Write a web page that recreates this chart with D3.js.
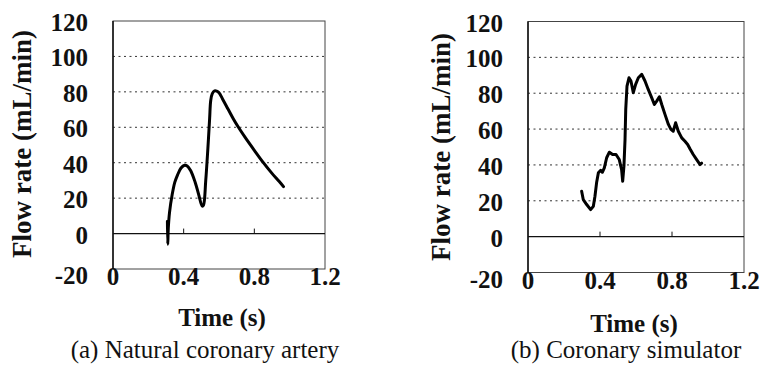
<!DOCTYPE html>
<html>
<head>
<meta charset="utf-8">
<script src="https://cdn.jsdelivr.net/npm/d3@7"></script>
<style>
  body { margin: 0; background: #fff; }
</style>
</head>
<body>
<svg id="chart" width="762" height="368"></svg>
<script>
// (a) natural coronary artery
var timeA = [0.308, 0.310, 0.313, 0.320, 0.335, 0.350, 0.365, 0.385, 0.405, 0.420, 0.440, 0.465, 0.485, 0.505, 0.512,
  0.525, 0.537, 0.547, 0.553, 0.562, 0.575, 0.587, 0.600, 0.620, 0.650, 0.680, 0.710, 0.750, 0.800, 0.850, 0.900, 0.940, 0.965];
var flowA = [7, -6, 3, 12, 22, 29, 33, 37, 38.6, 38.2, 35.5, 29, 22, 15.5, 16,
  30, 48, 65, 75, 79, 80.5, 80.4, 79.5, 76, 70.5, 65, 60, 54, 47, 40.2, 34, 29.5, 26.5];

// (b) coronary simulator
var timeB = [0.298, 0.307, 0.326, 0.348, 0.363, 0.372, 0.381, 0.391, 0.404, 0.413, 0.424, 0.437, 0.452, 0.470, 0.489,
  0.507, 0.520, 0.526, 0.533, 0.539, 0.543, 0.550, 0.561, 0.572, 0.585, 0.598, 0.613, 0.632, 0.650, 0.668, 0.687,
  0.702, 0.715, 0.730, 0.743, 0.761, 0.780, 0.794, 0.807, 0.820, 0.835, 0.854, 0.872, 0.887, 0.902, 0.918, 0.937, 0.956, 0.965];
var flowB = [25.3, 20.7, 17.9, 15.1, 16.9, 22.5, 30, 35.6, 37, 35.9, 38.4, 44, 47.1, 45.8, 45.8,
  43, 37.4, 30.9, 39.3, 54, 71, 84, 88.6, 86.8, 80.3, 84.9, 88.6, 90.5, 86.8, 82.1, 77.5,
  73.7, 75.6, 78, 73.7, 68.2, 62.6, 59.8, 58.8, 63.5, 58.8, 55.1, 53.2, 51.4, 48.6, 45.8, 43, 40.2, 41];

var yTicks = [-20, 0, 20, 40, 60, 80, 100, 120];
var xTicks = [0, 0.4, 0.8, 1.2];
var xTickLabels = ["0", "0.4", "0.8", "1.2"];
var yTitle = "Flow rate (mL/min)";
var xTitle = "Time (s)";

var serif = "Liberation Serif, Times New Roman, serif";
var svg = d3.select("#chart");

function drawPanel(time, flow, caption, curve, box) {
  var x = d3.scaleLinear().domain([0, 1.2]).range([box.left, box.right]);
  var y = d3.scaleLinear().domain([-20, 120]).range([box.bottom, box.top]);
  var g = svg.append("g");

  // dotted grid
  g.selectAll(".grid").data([20, 40, 60, 80, 100]).enter().append("line")
    .attr("x1", box.left).attr("x2", box.right)
    .attr("y1", d => y(d)).attr("y2", d => y(d))
    .attr("stroke", "#333").attr("stroke-width", 1).attr("stroke-dasharray", "2,3.5");

  // frame
  g.append("rect").attr("x", box.left).attr("y", box.top)
    .attr("width", box.right - box.left).attr("height", box.bottom - box.top)
    .attr("fill", "none").attr("stroke", "#444").attr("stroke-width", 1);
  g.append("line").attr("x1", box.left).attr("x2", box.left)
    .attr("y1", box.top).attr("y2", box.bottom).attr("stroke", "#111").attr("stroke-width", 1.5);

  // zero line with small ticks
  g.append("line").attr("x1", box.left).attr("x2", box.right)
    .attr("y1", y(0)).attr("y2", y(0)).attr("stroke", "#111").attr("stroke-width", 1.3);
  g.selectAll(".tk").data([0.4, 0.8]).enter().append("line")
    .attr("x1", d => x(d)).attr("x2", d => x(d))
    .attr("y1", y(0)).attr("y2", y(0) - 5).attr("stroke", "#111").attr("stroke-width", 1);

  // tick labels
  g.selectAll(".yl").data(yTicks).enter().append("text")
    .attr("x", box.left - 25).attr("y", d => y(d) + (d < 0 ? 15 : 10))
    .attr("text-anchor", "end").style("font-family", serif).style("font-weight", "bold").style("font-size", "25px")
    .attr("fill", "#111").text(d => d);
  g.selectAll(".xl").data(xTicks).enter().append("text")
    .attr("x", d => x(d)).attr("y", box.bottom + 16)
    .attr("text-anchor", "middle").style("font-family", serif).style("font-weight", "bold").style("font-size", "25px")
    .attr("fill", "#111").text((d, i) => xTickLabels[i]);

  // titles
  g.append("text")
    .attr("transform", "translate(" + box.yTitleX + "," + box.yTitleY + ") rotate(-90)")
    .attr("text-anchor", "middle").attr("dy", "0.35em").attr("fill", "#111")
    .style("font-family", serif).style("font-weight", "bold").style("font-size", "27px").text(yTitle);
  g.append("text").attr("x", box.xTitleX).attr("y", box.xTitleY)
    .attr("text-anchor", "middle").attr("fill", "#111")
    .style("font-family", serif).style("font-weight", "bold").style("font-size", "25px").text(xTitle);
  g.append("text").attr("x", box.capX).attr("y", 358)
    .attr("text-anchor", "middle").attr("fill", "#111")
    .style("font-family", serif).style("font-size", "25px").text(caption);

  var line = d3.line().x((d, i) => x(time[i])).y(d => y(d)).curve(curve);
  g.append("path").datum(flow).attr("d", line)
    .attr("fill", "none").attr("stroke", "#000").attr("stroke-width", 3)
    .attr("stroke-linejoin", "round").attr("stroke-linecap", "round");
}

drawPanel(timeA, flowA, "(a) Natural coronary artery", d3.curveCatmullRom,
  { left: 113, right: 325, top: 21, bottom: 269, yTitleX: 22, yTitleY: 144, xTitleX: 222, xTitleY: 326, capX: 205 });
drawPanel(timeB, flowB, "(b) Coronary simulator", d3.curveLinear,
  { left: 528, right: 744, top: 21.5, bottom: 272.5, yTitleX: 441, yTitleY: 147, xTitleX: 634, xTitleY: 332, capX: 626 });
</script>
</body>
</html>
